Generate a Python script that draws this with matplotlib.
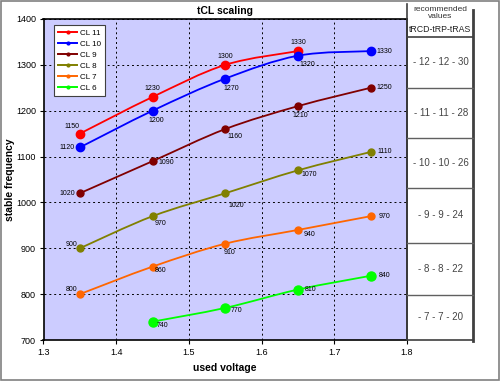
import matplotlib
matplotlib.use("Agg")
import matplotlib.pyplot as plt
import numpy as np
from matplotlib.lines import Line2D
from matplotlib.path import Path
from matplotlib.patches import PathPatch, Rectangle

plt.rcParams["font.family"] = ["Liberation Sans", "DejaVu Sans"]

W, H = 500, 381

# ── data ──────────────────────────────────────────────
voltage = [1.35, 1.45, 1.55, 1.65, 1.75]
cl11 = [1150, 1230, 1300, 1330, None]
cl10 = [1120, 1200, 1270, 1320, 1330]
cl9 = [1020, 1090, 1160, 1210, 1250]
cl8 = [900, 970, 1020, 1070, 1110]
cl7 = [800, 860, 910, 940, 970]
cl6 = [None, 740, 770, 810, 840]

series_names = ["CL 11", "CL 10", "CL 9", "CL 8", "CL 7", "CL 6"]
series_values = [cl11, cl10, cl9, cl8, cl7, cl6]
series_colors = ["#FF0000", "#0000FF", "#800000", "#808000", "#FF6600", "#00FF00"]
marker_sizes = [6, 6, 5, 5, 5, 6.5]

recommended = ["- 12 - 12 - 30", "- 11 - 11 - 28", "- 10 - 10 - 26",
               "- 9 - 9 - 24", "- 8 - 8 - 22", "- 7 - 7 - 20"]

# label offsets (points) per series/point
label_offsets = [
    [(-6, 5), (0, 6), (0, 6), (0, 6), None],
    [(-9, 0), (3, -7), (4, -7), (7, -6), (10, 0)],
    [(-9, 0), (10, -1), (7, -5), (2, -7), (10, 0)],
    [(-6, 3), (6, -5), (8, -9), (8, -3), (10, 0)],
    [(-6, 3), (6, -3), (3, -6), (8, -3), (10, 0)],
    [None, (7, -3), (8, -2), (9, 0), (10, 0)],
]


def px(x, y):
    return x / W, 1 - y / H


def smooth_path(xs, ys):
    # Excel-like smoothed line as cubic Bezier segments
    pts = np.array(list(zip(xs, ys)), dtype=float)
    n = len(pts)
    verts = [pts[0]]
    codes = [Path.MOVETO]
    for i in range(n - 1):
        p0 = pts[max(i - 1, 0)]
        p1 = pts[i]
        p2 = pts[i + 1]
        p3 = pts[min(i + 2, n - 1)]
        c1 = p1 + (p2 - p0) / 6
        c2 = p2 - (p3 - p1) / 6
        verts += [c1, c2, p2]
        codes += [Path.CURVE4] * 3
    return Path(verts, codes)


fig = plt.figure(figsize=(W / 100, H / 100), dpi=100)
fig.patch.set_facecolor("white")
fig.add_artist(Rectangle((0.002, 0.003), 0.995, 0.995, transform=fig.transFigure,
                         fill=False, edgecolor="#808080", linewidth=1.2))

x0, y0 = px(43.5, 340)
x1, y1 = px(407, 19)
ax = fig.add_axes([x0, y0, x1 - x0, y1 - y0])
ax.set_facecolor("#CCCCFF")
ax.set_xlim(1.3, 1.8)
ax.set_ylim(700, 1400)
ax.set_xticks(np.arange(1.3, 1.81, 0.1))
ax.set_xticklabels([f"{v:.1f}" for v in np.arange(1.3, 1.81, 0.1)])
ax.set_yticks(range(700, 1401, 100))
ax.tick_params(labelsize=6.5, length=3, width=0.8, color="black", pad=2.5)
for s in ax.spines.values():
    s.set_linewidth(1.2)
ax.grid(True, color="#000000", linestyle=(0, (2, 3)), linewidth=0.7)
ax.set_axisbelow(True)

for name, vals, col, ms, offs in zip(series_names, series_values, series_colors,
                                     marker_sizes, label_offsets):
    xs = [v for v, y in zip(voltage, vals) if y is not None]
    ys = [y for y in vals if y is not None]
    ax.add_patch(PathPatch(smooth_path(xs, ys), fill=False, edgecolor=col,
                           linewidth=1.3, zorder=3))
    ax.plot(xs, ys, linestyle="none", marker="o", markersize=ms, color=col, zorder=4)
    for v, y, off in zip(voltage, vals, offs):
        if y is None:
            continue
        ax.annotate(str(y), (v, y), xytext=off, textcoords="offset points",
                    ha="center", va="center", fontsize=5, zorder=5)

handles = [Line2D([0], [0], color=c, linewidth=1.4, marker="o", markersize=2)
           for c in series_colors]
leg = fig.legend(handles, series_names, loc="upper left", fontsize=5.8,
                 bbox_to_anchor=px(54, 25), bbox_transform=fig.transFigure,
                 frameon=True, fancybox=False, borderaxespad=0,
                 handlelength=2.4, labelspacing=0.42, borderpad=0.5, handletextpad=0.3)
leg.get_frame().set_edgecolor("#404040")
leg.get_frame().set_linewidth(0.8)
leg.get_frame().set_facecolor("white")
leg.get_frame().set_alpha(1)

fig.text(*px(225, 368), "used voltage", fontsize=7.5, fontweight="bold",
         ha="center", va="center")
fig.text(*px(10, 180), "stable frequency", fontsize=7.5, fontweight="bold",
         ha="center", va="center", rotation=90)
fig.text(*px(225, 11), "tCL scaling", fontsize=7.5, fontweight="bold",
         ha="center", va="center")

# ── recommended values table ──────────────────────────
tl, tr = 407, 473
fig.add_artist(Line2D(*zip(px(tl, 4), px(tl, 340)), transform=fig.transFigure,
                      color="#404040", linewidth=1.2))
fig.add_artist(Line2D(*zip(px(tr, 10), px(tr, 341)), transform=fig.transFigure,
                      color="#404040", linewidth=2))
row_lines = [36.5, 88, 138, 188, 243, 295, 340]
for i, yl in enumerate(row_lines):
    fig.add_artist(Line2D(*zip(px(tl, yl), px(tr, yl)), transform=fig.transFigure,
                          color="#404040" if i in (0, 6) else "#606060",
                          linewidth=1.2 if i in (0, 6) else 1.0))
fig.text(*px(440, 13), "recommended\nvalues", fontsize=6, color="#333333",
         ha="center", va="center", linespacing=0.95)
fig.text(*px(440, 30), "tRCD-tRP-tRAS", fontsize=6.3, color="#222222",
         ha="center", va="center")
for i, txt in enumerate(recommended):
    yc = (row_lines[i] + row_lines[i + 1]) / 2
    fig.text(*px(441, yc), txt, fontsize=7, color="#444444", ha="center", va="center")

fig.savefig("out.png", dpi=100)
